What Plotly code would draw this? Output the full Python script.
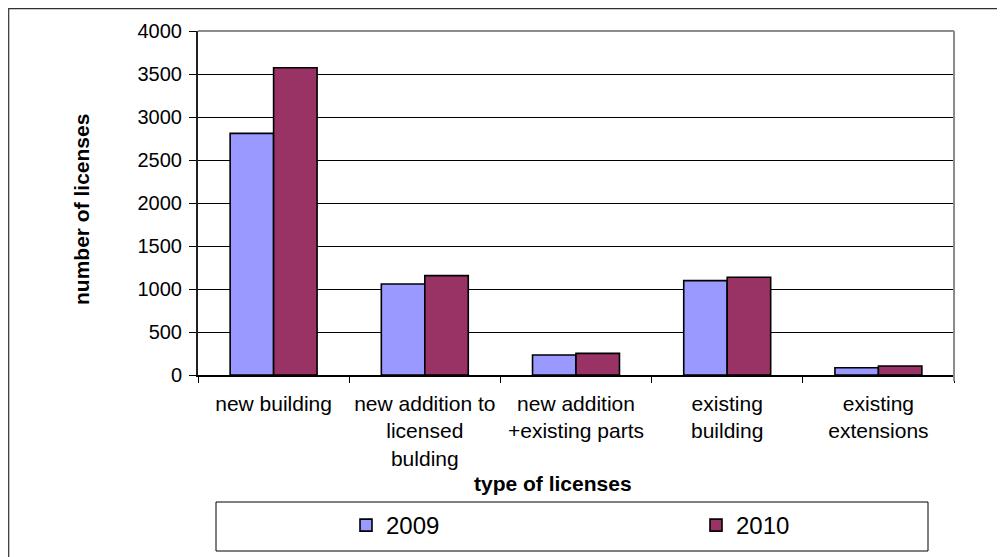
import plotly.graph_objects as go

# categorias e valores
tipos = ["new building", "new addition to licensed bulding", "new addition +existing parts",
         "existing building", "existing extensions"]
rotulos = ["new building", "new addition to<br>licensed<br>bulding", "new addition<br>+existing parts",
           "existing<br>building", "existing<br>extensions"]
anos = ["2009", "2010"]
licencas_2009 = [2810, 1058, 232, 1097, 85]
licencas_2010 = [3573, 1155, 252, 1136, 105]
cores = ["#9999FF", "#993366"]
ticks_y = [0, 500, 1000, 1500, 2000, 2500, 3000, 3500, 4000]

W, H = 1005, 557
OFF = 8  # margem do body da página
# área de plotagem em coordenadas da página
L, R, T, B = 198, 954, 31, 375


def px(x):
    return (x - L) / (R - L)


def py(y):
    return (B - y) / (B - T)


fig = go.Figure()
for i, (ano, valores, cor) in enumerate(zip(anos, [licencas_2009, licencas_2010], cores)):
    fig.add_trace(go.Bar(
        x=tipos, y=valores, name=ano,
        marker=dict(color=cor, line=dict(color="black", width=1.6)),
        legendwidth=305 if i == 0 else None
    ))

fig.update_layout(
    width=W, height=H,
    margin=dict(l=L - OFF, r=W - (R - OFF), t=T - OFF, b=H - (B - OFF), autoexpand=False),
    paper_bgcolor="white", plot_bgcolor="white",
    barmode="group", bargap=0.425, bargroupgap=0,
    font=dict(family="Liberation Sans, Arial, sans-serif", color="black"),
    legend=dict(
        orientation="h", x=px(346), y=py(503), xanchor="left", yanchor="top",
        font=dict(family="Liberation Sans Narrow, Liberation Sans, sans-serif", size=24),
        bgcolor="rgba(0,0,0,0)", borderwidth=0, traceorder="normal"
    ),
)

fig.update_xaxes(
    tickvals=tipos, ticktext=rotulos, tickson="boundaries",
    ticks="outside", ticklen=6, tickcolor="black", tickwidth=1,
    showline=True, linecolor="black", linewidth=1.5,
    showgrid=False, tickfont=dict(size=21), ticklabelstandoff=9
)
fig.update_yaxes(
    range=[0, 4000], tickvals=ticks_y,
    ticks="outside", ticklen=7, tickcolor="black", tickwidth=1,
    showline=True, linecolor="#202020", linewidth=2,
    showgrid=True, gridcolor="black", gridwidth=1, zeroline=False,
    tickfont=dict(size=20), ticklabelstandoff=3
)

# borda cinza do topo e da direita da área de plotagem
fig.add_shape(type="line", xref="paper", yref="paper", x0=0, x1=1, y0=1, y1=1,
              line=dict(color="#8c8c8c", width=2))
fig.add_shape(type="line", xref="paper", yref="paper", x0=1, x1=1, y0=py(381), y1=1,
              line=dict(color="#8c8c8c", width=2))
# moldura externa e caixa da legenda
fig.add_shape(type="rect", xref="paper", yref="paper", x0=px(8.7), x1=px(1020), y0=py(570), y1=py(8.7),
              line=dict(color="#303030", width=1.2), layer="below")
fig.add_shape(type="rect", xref="paper", yref="paper", x0=px(216), x1=px(928), y0=py(551), y1=py(502),
              line=dict(color="black", width=1))

# títulos dos eixos
fig.add_annotation(text="<b>type of licenses</b>", xref="paper", yref="paper",
                   x=px(553), y=py(484), xanchor="center", yanchor="middle",
                   showarrow=False, font=dict(size=21))
fig.add_annotation(text="<b>number of licenses</b>", xref="paper", yref="paper",
                   x=px(81), y=py(210), xanchor="center", yanchor="middle",
                   showarrow=False, textangle=-90, font=dict(size=21))

fig.write_html("out.html")
